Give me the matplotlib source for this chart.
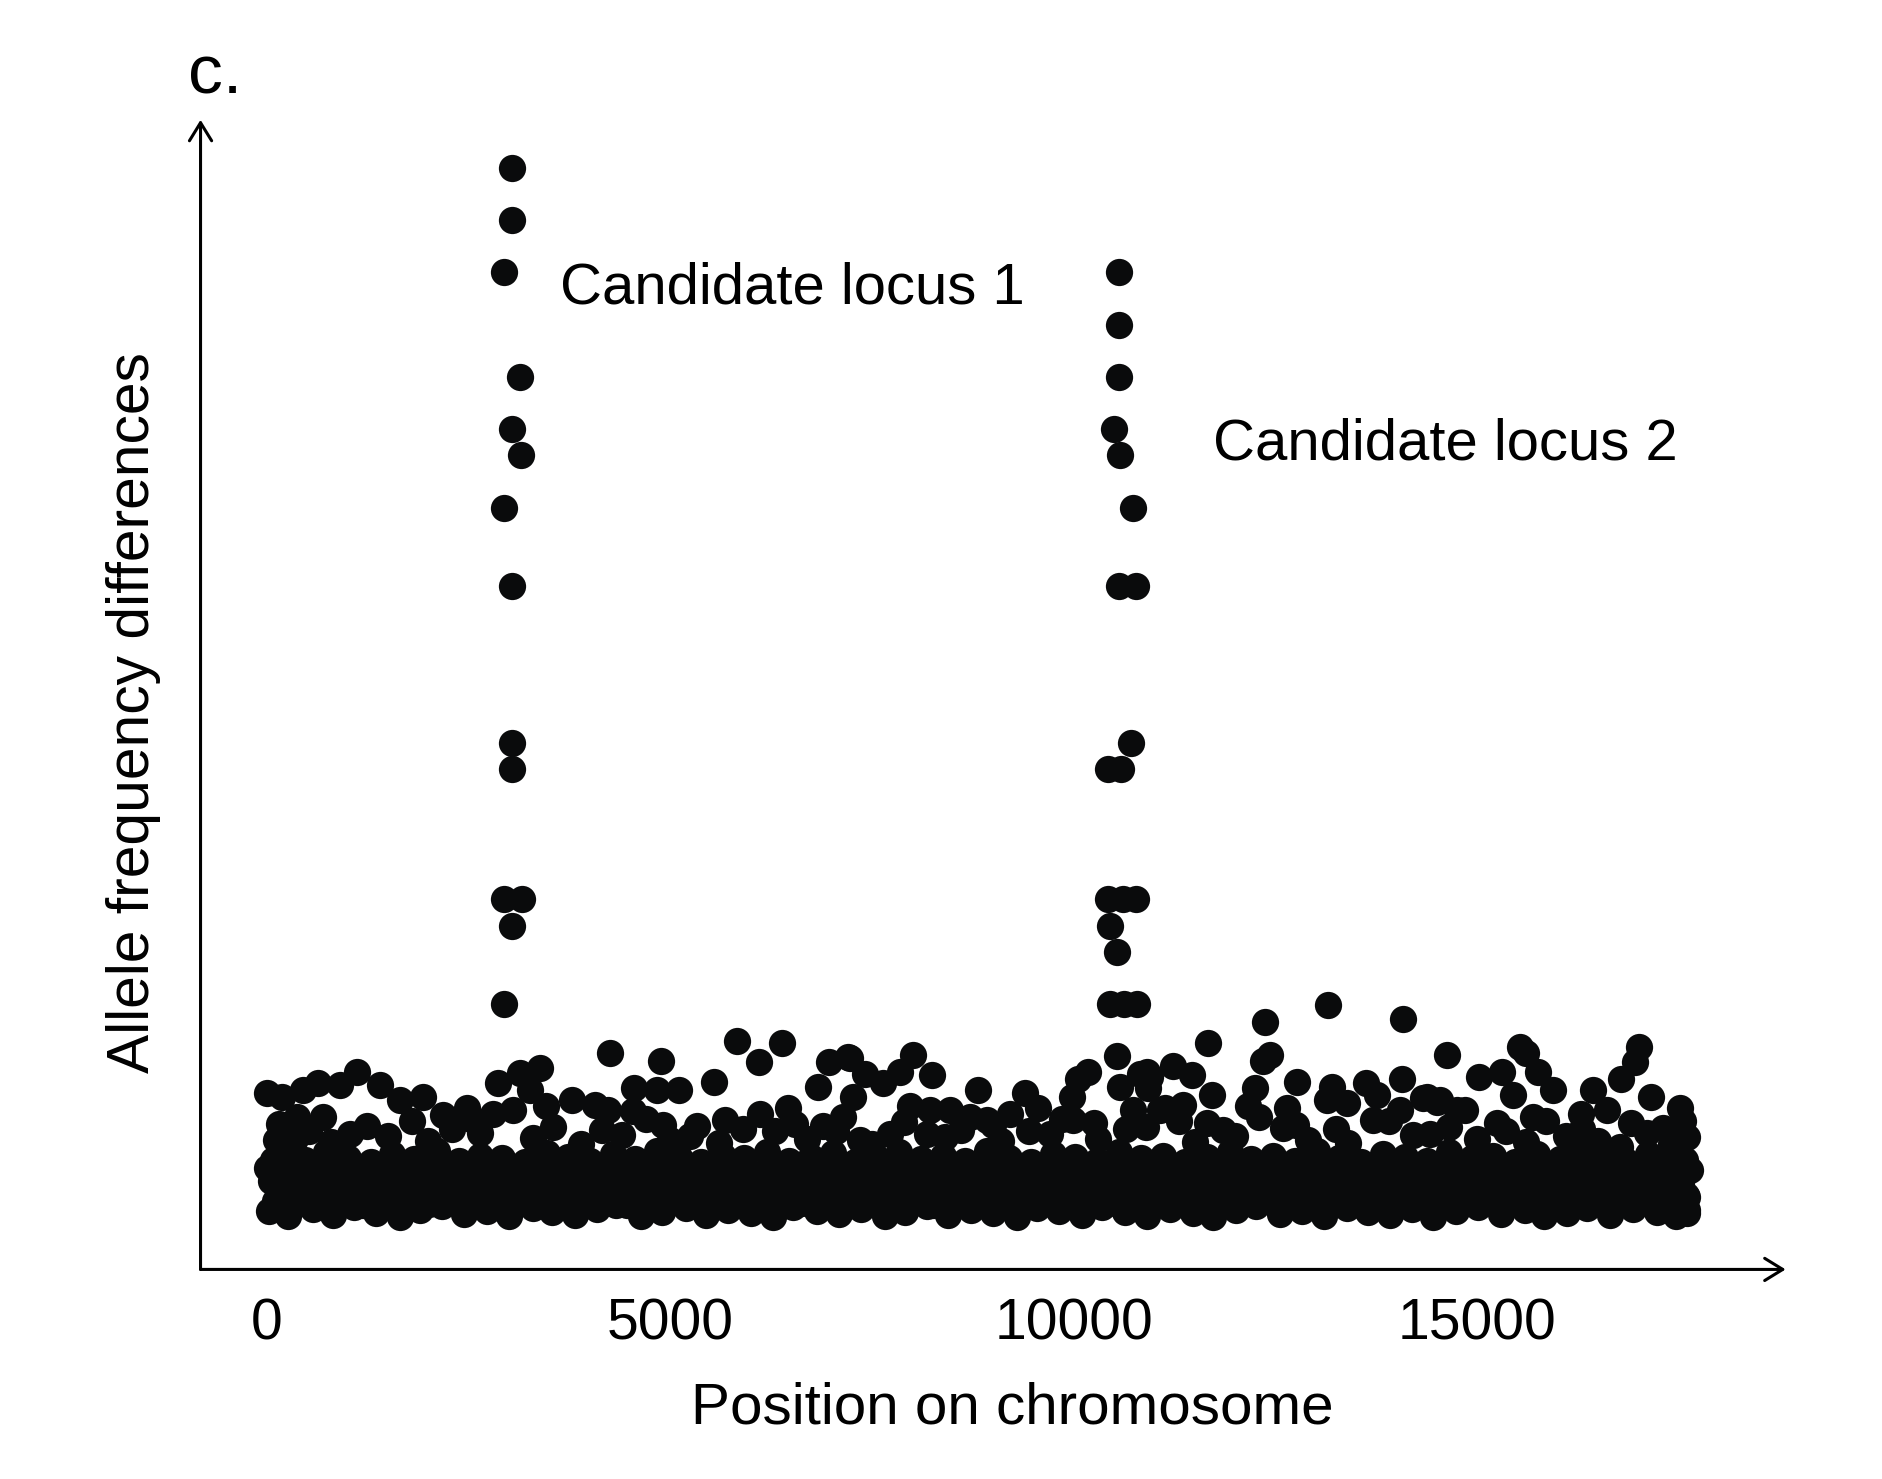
import matplotlib
matplotlib.use("Agg")
import matplotlib.pyplot as plt

plt.rcParams['font.family'] = ['Liberation Sans', 'DejaVu Sans']

# Candidate locus 1 (position, allele frequency difference)
locus1_x = [3035, 3035, 2945, 3140, 3040, 3155, 2945, 3035, 3035, 3035, 2940, 3170, 3040, 2945]
locus1_y = [1.0, 0.95, 0.9, 0.8, 0.75, 0.725, 0.675, 0.6, 0.45, 0.425, 0.3, 0.3, 0.275, 0.2]

# Candidate locus 2
locus2_x = [10565, 10565, 10565, 10500, 10575, 10730, 10565, 10775, 10715, 10430, 10580,
            10430, 10610, 10775, 10445, 10535, 10445, 10625, 10790, 10535]
locus2_y = [0.9, 0.85, 0.8, 0.75, 0.725, 0.675, 0.6, 0.6, 0.45, 0.425, 0.425,
            0.3, 0.3, 0.3, 0.275, 0.25, 0.2, 0.2, 0.2, 0.15]

# Background SNPs sticking out above the dense band
upper_pts = [
    (0, 0.115), (186, 0.111), (455, 0.118), (640, 0.124), (1116, 0.135), (908, 0.122),
    (1405, 0.122), (372, 0.092), (1652, 0.108), (1934, 0.111), (2187, 0.094), (2479, 0.100),
    (2559, 0.089), (2872, 0.124), (3140, 0.134), (3388, 0.139), (3259, 0.118), (3050, 0.099),
    (3467, 0.102), (119, 0.070), (1034, 0.076), (82, 0.051),
    (4256, 0.153), (4881, 0.145), (5833, 0.165), (6384, 0.163), (6101, 0.144), (5543, 0.125),
    (4553, 0.120), (4836, 0.118), (5111, 0.118), (6964, 0.144), (7232, 0.148), (6830, 0.121),
    (3780, 0.108), (4070, 0.103), (4226, 0.099), (4910, 0.084), (5327, 0.083), (5684, 0.089),
    (6116, 0.095), (6458, 0.100), (6890, 0.083), (7262, 0.111), (7143, 0.092), (4538, 0.098),
    (7202, 0.149), (8006, 0.151), (7410, 0.133), (7849, 0.135), (8244, 0.132), (7633, 0.124),
    (7976, 0.102), (8214, 0.099), (8467, 0.099), (8720, 0.092), (8928, 0.089), (8809, 0.118),
    (9397, 0.115), (9560, 0.100), (9211, 0.095), (10178, 0.135), (10059, 0.128), (9977, 0.111),
    (10818, 0.133), (10946, 0.130), (10574, 0.121), (11071, 0.099), (10739, 0.099), (9993, 0.089),
    (7351, 0.070), (7723, 0.076), (8184, 0.076),
    (12365, 0.183), (14076, 0.186), (13154, 0.199), (11666, 0.163), (12432, 0.151), (12350, 0.145),
    (14627, 0.151), (11234, 0.141), (11465, 0.132), (10907, 0.135), (10922, 0.120), (11711, 0.113),
    (12246, 0.120), (12157, 0.102), (11130, 0.100), (11353, 0.103), (12767, 0.125), (13199, 0.121),
    (13615, 0.124), (13758, 0.113), (14062, 0.128), (14330, 0.110), (14501, 0.106), (12641, 0.100),
    (13140, 0.108), (13386, 0.105), (12596, 0.081), (11651, 0.086), (14047, 0.099), (13705, 0.089),
    (14746, 0.099),
    (15530, 0.159), (15609, 0.153), (15304, 0.135), (15023, 0.130), (15758, 0.135), (15445, 0.113),
    (15936, 0.118), (16437, 0.118), (17008, 0.159), (16956, 0.144), (16785, 0.128), (17157, 0.111),
    (17514, 0.100), (17596, 0.073), (14374, 0.111), (14538, 0.108), (14850, 0.099), (15694, 0.092),
    (16280, 0.095), (16607, 0.099), (15245, 0.086), (14419, 0.076), (16770, 0.063), (17633, 0.041),
    (17603, 0.015), (17603, 0.000),
]

# Dense band of background SNPs near zero
band_row0 = [
    (30, 0.002), (270, -0.003), (575, 0.004), (820, -0.002), (1085, 0.006), (1360, 0.000),
    (1655, -0.004), (1900, 0.003), (2170, 0.007), (2450, -0.001), (2730, 0.002), (3000, -0.003),
    (3300, 0.005), (3540, 0.001), (3820, -0.002), (4090, 0.004), (4330, 0.008), (4640, -0.003),
    (4900, 0.001), (5200, 0.005), (5450, -0.002), (5720, 0.003), (6000, 0.000), (6270, -0.004),
    (6520, 0.006), (6820, 0.002), (7090, -0.001), (7360, 0.004), (7665, -0.003), (7910, 0.001),
    (8180, 0.007), (8440, -0.002), (8730, 0.003), (9000, 0.000), (9300, -0.004), (9550, 0.005),
    (9820, 0.002), (10100, -0.002), (10350, 0.006), (10640, 0.001), (10910, -0.003), (11190, 0.004),
    (11480, 0.000), (11730, -0.004), (12010, 0.003), (12255, 0.007), (12550, -0.001), (12830, 0.002),
    (13100, -0.003), (13390, 0.005), (13650, 0.001), (13920, -0.002), (14190, 0.004), (14450, -0.004),
    (14740, 0.002), (15010, 0.006), (15290, -0.001), (15585, 0.003), (15830, -0.003), (16110, 0.000),
    (16360, 0.005), (16650, -0.002), (16930, 0.004), (17220, 0.001), (17460, -0.003), (17600, 0.003),
]
band_row_a = [
    (100, 0.011), (380, 0.009), (640, 0.012), (920, 0.010), (1190, 0.008), (1460, 0.012),
    (1730, 0.010), (2010, 0.009), (2280, 0.013), (2550, 0.010), (2820, 0.008), (3090, 0.011),
    (3370, 0.012), (3640, 0.009), (3910, 0.010), (4180, 0.013), (4460, 0.008), (4730, 0.011),
    (5000, 0.010), (5270, 0.012), (5540, 0.009), (5820, 0.011), (6090, 0.013), (6360, 0.008),
    (6630, 0.010), (6900, 0.012), (7180, 0.009), (7450, 0.011), (7720, 0.010), (7990, 0.013),
    (8260, 0.008), (8540, 0.011), (8810, 0.012), (9080, 0.009), (9350, 0.010), (9620, 0.012),
    (9900, 0.008), (10170, 0.011), (10440, 0.010), (10710, 0.013), (10980, 0.009), (11260, 0.011),
    (11530, 0.012), (11800, 0.008), (12070, 0.010), (12340, 0.011), (12620, 0.013), (12890, 0.009),
    (13160, 0.010), (13430, 0.012), (13700, 0.008), (13980, 0.011), (14250, 0.010), (14520, 0.013),
    (14790, 0.009), (15060, 0.011), (15340, 0.012), (15610, 0.008), (15880, 0.010), (16150, 0.012),
    (16420, 0.009), (16700, 0.011), (16970, 0.013), (17240, 0.010), (17500, 0.008),
]
band_row1 = [
    (160, 0.019), (420, 0.016), (700, 0.022), (960, 0.018), (1230, 0.015), (1500, 0.021),
    (1780, 0.017), (2050, 0.023), (2310, 0.016), (2590, 0.020), (2880, 0.018), (3140, 0.015),
    (3410, 0.022), (3700, 0.019), (3960, 0.016), (4220, 0.021), (4500, 0.017), (4790, 0.023),
    (5050, 0.019), (5310, 0.015), (5590, 0.020), (5880, 0.018), (6140, 0.022), (6400, 0.016),
    (6690, 0.019), (6970, 0.021), (7230, 0.015), (7500, 0.018), (7790, 0.022), (8050, 0.017),
    (8310, 0.020), (8600, 0.016), (8880, 0.023), (9140, 0.018), (9410, 0.015), (9690, 0.021),
    (9970, 0.019), (10230, 0.016), (10500, 0.022), (10790, 0.018), (11050, 0.020), (11320, 0.015),
    (11600, 0.019), (11880, 0.022), (12140, 0.017), (12420, 0.020), (12700, 0.016), (12960, 0.023),
    (13230, 0.018), (13510, 0.015), (13790, 0.021), (14050, 0.019), (14330, 0.016), (14610, 0.022),
    (14880, 0.018), (15150, 0.020), (15420, 0.015), (15700, 0.021), (15970, 0.017), (16240, 0.023),
    (16520, 0.018), (16790, 0.016), (17060, 0.021), (17330, 0.019), (17580, 0.017),
]
band_row2 = [
    (60, 0.031), (330, 0.029), (610, 0.033), (870, 0.030), (1150, 0.028), (1430, 0.032),
    (1690, 0.030), (1970, 0.033), (2240, 0.029), (2500, 0.031), (2790, 0.030), (3060, 0.028),
    (3330, 0.033), (3600, 0.031), (3880, 0.029), (4150, 0.032), (4420, 0.030), (4700, 0.033),
    (4960, 0.031), (5240, 0.028), (5510, 0.032), (5790, 0.030), (6060, 0.033), (6330, 0.029),
    (6610, 0.031), (6880, 0.032), (7150, 0.028), (7420, 0.030), (7700, 0.033), (7970, 0.029),
    (8240, 0.031), (8520, 0.029), (8790, 0.033), (9060, 0.030), (9330, 0.028), (9610, 0.032),
    (9880, 0.031), (10150, 0.029), (10420, 0.033), (10700, 0.030), (10970, 0.031), (11240, 0.028),
    (11520, 0.031), (11790, 0.033), (12060, 0.029), (12340, 0.031), (12610, 0.029), (12880, 0.033),
    (13150, 0.030), (13430, 0.028), (13700, 0.032), (13970, 0.031), (14250, 0.029), (14520, 0.033),
    (14790, 0.030), (15060, 0.031), (15340, 0.028), (15610, 0.032), (15880, 0.029), (16150, 0.033),
    (16430, 0.030), (16700, 0.029), (16970, 0.032), (17240, 0.031), (17520, 0.029),
]
band_row_b = [
    (0, 0.043), (250, 0.041), (520, 0.045), (790, 0.042), (1060, 0.040), (1340, 0.044),
    (1610, 0.042), (1880, 0.045), (2150, 0.041), (2420, 0.043), (2700, 0.040), (2970, 0.044),
    (3240, 0.042), (3510, 0.045), (3780, 0.041), (4060, 0.043), (4330, 0.040), (4600, 0.044),
    (4870, 0.042), (5140, 0.045), (5420, 0.041), (5690, 0.043), (5960, 0.040), (6230, 0.044),
    (6500, 0.042), (6780, 0.045), (7050, 0.041), (7320, 0.043), (7590, 0.040), (7860, 0.044),
    (8140, 0.042), (8410, 0.045), (8680, 0.041), (8950, 0.043), (9220, 0.040), (9500, 0.044),
    (9770, 0.042), (10040, 0.045), (10310, 0.041), (10580, 0.043), (10860, 0.040), (11130, 0.044),
    (11400, 0.042), (11670, 0.045), (11940, 0.041), (12220, 0.043), (12490, 0.040), (12760, 0.044),
    (13030, 0.042), (13300, 0.045), (13580, 0.041), (13850, 0.043), (14120, 0.040), (14390, 0.044),
    (14660, 0.042), (14940, 0.045), (15210, 0.041), (15480, 0.043), (15750, 0.040), (16020, 0.044),
    (16300, 0.042), (16570, 0.045), (16840, 0.041), (17110, 0.043), (17380, 0.040), (17590, 0.044),
]
band_row3 = [
    (190, 0.055), (470, 0.051), (740, 0.058), (1010, 0.053), (1290, 0.049), (1560, 0.056),
    (1830, 0.052), (2110, 0.059), (2380, 0.050), (2650, 0.055), (2920, 0.053), (3200, 0.049),
    (3470, 0.057), (3740, 0.054), (4010, 0.050), (4290, 0.056), (4560, 0.052), (4840, 0.059),
    (5110, 0.054), (5380, 0.049), (5650, 0.055), (5920, 0.053), (6200, 0.058), (6470, 0.050),
    (6740, 0.054), (7020, 0.057), (7290, 0.049), (7560, 0.053), (7830, 0.058), (8110, 0.052),
    (8380, 0.055), (8650, 0.050), (8920, 0.059), (9200, 0.053), (9470, 0.049), (9740, 0.056),
    (10020, 0.054), (10290, 0.050), (10560, 0.058), (10830, 0.053), (11110, 0.055), (11380, 0.049),
    (11650, 0.054), (11930, 0.058), (12200, 0.052), (12470, 0.055), (12740, 0.050), (13020, 0.059),
    (13290, 0.053), (13560, 0.049), (13830, 0.056), (14110, 0.054), (14380, 0.050), (14650, 0.058),
    (14930, 0.053), (15200, 0.055), (15470, 0.049), (15740, 0.056), (16020, 0.052), (16290, 0.059),
    (16560, 0.053), (16840, 0.050), (17110, 0.056), (17380, 0.054), (17570, 0.051),
]
band_top = [
    (350, 0.071), (800, 0.068), (1500, 0.074), (2000, 0.069), (2650, 0.077), (3300, 0.072),
    (3900, 0.066), (4400, 0.075), (5000, 0.070), (5600, 0.067), (6300, 0.078), (6700, 0.071),
    (7500, 0.066), (8400, 0.073), (9100, 0.069), (9700, 0.076), (10300, 0.071), (10650, 0.080),
    (11500, 0.068), (12000, 0.074), (12900, 0.070), (13400, 0.067), (14200, 0.075), (15000, 0.071),
    (15600, 0.068), (16100, 0.074), (16500, 0.069), (17100, 0.077), (17400, 0.066),
]
band_fringe = [
    (150, 0.085), (520, 0.078), (700, 0.092), (1250, 0.083), (1800, 0.088), (2300, 0.080),
    (2800, 0.095), (3550, 0.082), (4150, 0.079), (4700, 0.090), (5250, 0.074), (5900, 0.080),
    (6550, 0.085), (7050, 0.078), (7900, 0.087), (8600, 0.079), (9000, 0.084), (9450, 0.078),
    (9850, 0.090), (10250, 0.086), (10900, 0.082), (11300, 0.088), (11850, 0.079), (12300, 0.092),
    (12750, 0.084), (13250, 0.080), (13900, 0.088), (14650, 0.082), (15350, 0.078), (15850, 0.088),
    (16300, 0.080), (16900, 0.086), (17300, 0.081), (17550, 0.088),
]

noise = (upper_pts + band_row0 + band_row_a + band_row1 + band_row2 + band_row_b
         + band_row3 + band_top + band_fringe)
noise_x = [p[0] for p in noise]
noise_y = [p[1] for p in noise]

fig = plt.figure(figsize=(18.83, 14.79), dpi=100)
ax = fig.add_axes([0.1065, 0.1417, 0.8418, 0.7773])

dot = dict(s=385, color='#0a0b0c', linewidths=0)
ax.scatter(noise_x, noise_y, **dot)
ax.scatter(locus1_x, locus1_y, **dot)
ax.scatter(locus2_x, locus2_y, **dot)

ax.set_xlim(-818, 18820)
ax.set_ylim(-0.054, 1.046)
for s in ax.spines.values():
    s.set_visible(False)
ax.set_yticks([])
ax.set_xticks([0, 5000, 10000, 15000])
ax.tick_params(axis='x', length=0, pad=20, labelsize=41)

arrow = dict(arrowstyle='->,head_length=0.65,head_width=0.4', lw=2.2, color='black',
             mutation_scale=20, shrinkA=0, shrinkB=0)
ax.annotate('', xy=(1, 0), xytext=(0, 0), xycoords='axes fraction', arrowprops=arrow)
ax.annotate('', xy=(0, 1), xytext=(0, 0), xycoords='axes fraction', arrowprops=arrow)

ax.text(3630, 0.870, 'Candidate locus 1', fontsize=41.8, va='baseline', ha='left')
ax.text(11727, 0.721, 'Candidate locus 2', fontsize=41.8, va='baseline', ha='left')

fig.text(0.5376, 0.0372, 'Position on chromosome', fontsize=42, ha='center', va='baseline')
fig.text(0.0708, 0.518, 'Allele frequency differences', fontsize=42.3, ha='center',
         va='center', rotation=90)
fig.text(0.0998, 0.937, 'c.', fontsize=50, ha='left', va='baseline')

fig.savefig('out.png', dpi=100)
